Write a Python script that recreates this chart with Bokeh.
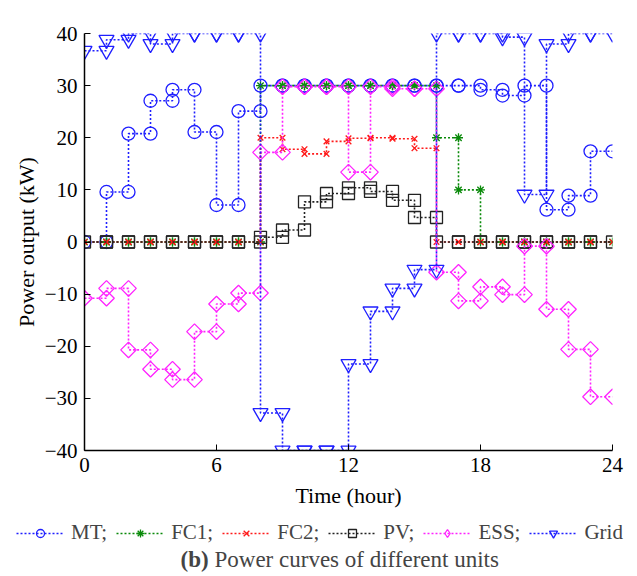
import numpy as np
from bokeh.plotting import figure
from bokeh.layouts import column
from bokeh.models import Range1d, FixedTicker, Legend, LegendItem, Label
from bokeh.embed import file_html
from bokeh.resources import INLINE

# hour boundaries and hourly values (kW)
hours = [0, 1, 2, 3, 4, 5, 6, 7, 8, 9, 10, 11, 12, 13, 14, 15, 16, 17, 18, 19, 20, 21, 22, 23, 24]
MT = [0, 9.6, 20.8, 27.1, 29.2, 21.1, 7.1, 25.1, 30, 30, 30, 30, 30, 30, 30, 30,
      30, 30, 29.2, 28.1, 30, 6.2, 8.9, 17.4]
FC1 = [0, 0, 0, 0, 0, 0, 0, 0, 30, 30, 30, 30, 30, 30, 30, 30,
       20, 10, 0, 0, 0, 0, 0, 0]
FC2 = [0, 0, 0, 0, 0, 0, 0, 0, 20, 17.8, 16.9, 19.3, 19.9, 20, 19.8, 18,
       0, 0, 0, 0, 0, 0, 0, 0]
PV = [0, 0, 0, 0, 0, 0, 0, 0, 0.9, 2.3, 7.7, 9.3, 10.4, 9.7, 8.0, 4.7,
      0, 0, 0, 0, 0, 0, 0, 0]
ESS = [-10.8, -8.9, -20.7, -24.4, -26.4, -17.2, -11.9, -9.8, 17.2, 29.8, 29.8, 29.8,
       13.4, 29.8, 29.4, 29.4, -5.8, -11.3, -8.6, -10.1, -0.8, -12.9, -20.6, -29.7]
Grid = [36.7, 38.8, 40, 38, 40, 40, 40, 40, -32.8, -40, -40, -40,
        -23.4, -13.3, -8.9, -5.3, 40, 40, 40, 39.3, 9.1, 38, 40, 40]

series_names = ["MT;", "FC1;", "FC2;", "PV;", "ESS;", "Grid"]
x_ticks = [0, 6, 12, 18, 24]
y_ticks = [-40, -30, -20, -10, 0, 10, 20, 30, 40]
caption_bold = "(b)"
caption_text = "Power curves of different units"

FONT = "Liberation Serif"

def steps(vals):
    xs, ys = [], []
    for h, v in enumerate(vals):
        xs += [hours[h], hours[h + 1]]
        ys += [v, v]
    return xs, ys

p = figure(width=637, height=510, output_backend="svg", toolbar_location=None,
           x_range=Range1d(0, 24), y_range=Range1d(-40, 40),
           min_border_top=33, min_border_left=84, min_border_right=25, min_border_bottom=60)
p.outline_line_color = None
p.xgrid.visible = False
p.ygrid.visible = False

for ax in (p.xaxis[0], p.yaxis[0]):
    ax.major_tick_in = 6
    ax.major_tick_out = 0
    ax.minor_tick_line_color = None
    ax.axis_line_width = 1.5
    ax.axis_line_color = "black"
    ax.major_tick_line_color = "black"
    ax.major_label_text_font = FONT
    ax.major_label_text_font_size = "21px"
    ax.major_label_text_color = "black"
    ax.axis_label_text_font = FONT
    ax.axis_label_text_font_size = "22px"
    ax.axis_label_text_font_style = "normal"
    ax.axis_label_text_color = "black"
    ax.major_label_standoff = 7
    ax.axis_label_standoff = 8
p.yaxis[0].axis_label_standoff = 3

p.xaxis.ticker = FixedTicker(ticks=x_ticks)
p.yaxis.ticker = FixedTicker(ticks=y_ticks)
p.xaxis.axis_label = "Time (hour)"
p.yaxis.axis_label = "Power output (kW)"

styles = [
    dict(color="#1f1fff", marker="circle", size=13, angle=0, lmarker="circle", lsize=10),
    dict(color="#0a8a0a", marker="asterisk", size=9, angle=0, lmarker="asterisk", lsize=8),
    dict(color="#ff1a1a", marker="x", size=8, angle=0, lmarker="x", lsize=7),
    dict(color="#222222", marker="square", size=12, angle=0, lmarker="square", lsize=10),
    dict(color="#ff22ff", marker="square", size=11, angle=np.pi / 4, lmarker="diamond", lsize=14),
    dict(color="#1f1fff", marker="inverted_triangle", size=15, angle=0, lmarker="inverted_triangle", lsize=12),
]

# legend / caption strip below the chart (its frame gets aligned with the chart's, from x=84)
p2 = figure(frame_width=637, frame_height=66, output_backend="svg", toolbar_location=None,
            x_range=Range1d(84, 721), y_range=Range1d(0, 66),
            min_border_left=0, min_border_right=0, min_border_top=0, min_border_bottom=0,
            x_axis_type=None, y_axis_type=None)
p2.outline_line_color = None
p2.xgrid.visible = False
p2.ygrid.visible = False

items = []
for name, vals, st in zip(series_names, [MT, FC1, FC2, PV, ESS, Grid], styles):
    xs, ys = steps(vals)
    p.line(xs, ys, line_color=st["color"], line_width=1.6, line_dash="2 2")
    p.scatter(xs, ys, marker=st["marker"], size=st["size"], angle=st["angle"],
              fill_color=None, line_color=st["color"], line_width=1.3)
    # legend proxies, placed outside the strip's visible range
    lr = p2.line([-50, -40], [-50, -50], line_color=st["color"], line_width=1.6, line_dash="2 2")
    sr = p2.scatter([-50], [-50], marker=st["lmarker"], size=st["lsize"],
                    fill_color=None, line_color=st["color"], line_width=1.3)
    items.append(LegendItem(label=name, renderers=[lr, sr]))

legend = Legend(items=items, orientation="horizontal", location=(16, 31),
                label_text_font=FONT, label_text_font_size="21px",
                glyph_width=48, glyph_height=20, label_standoff=7, spacing=9,
                padding=6, margin=0, border_line_color=None,
                background_fill_alpha=0)
p2.add_layout(legend, "center")

cap1 = Label(x=180, y=17, text=caption_bold,
             text_font=FONT, text_font_size="23px", text_font_style="bold",
             text_baseline="middle", text_align="left")
cap2 = Label(x=214, y=17, text=caption_text,
             text_font=FONT, text_font_size="23px",
             text_baseline="middle", text_align="left")
p2.add_layout(cap1)
p2.add_layout(cap2)

layout = column(p, p2, spacing=0)
open("out.html", "w").write(file_html(layout, INLINE))
